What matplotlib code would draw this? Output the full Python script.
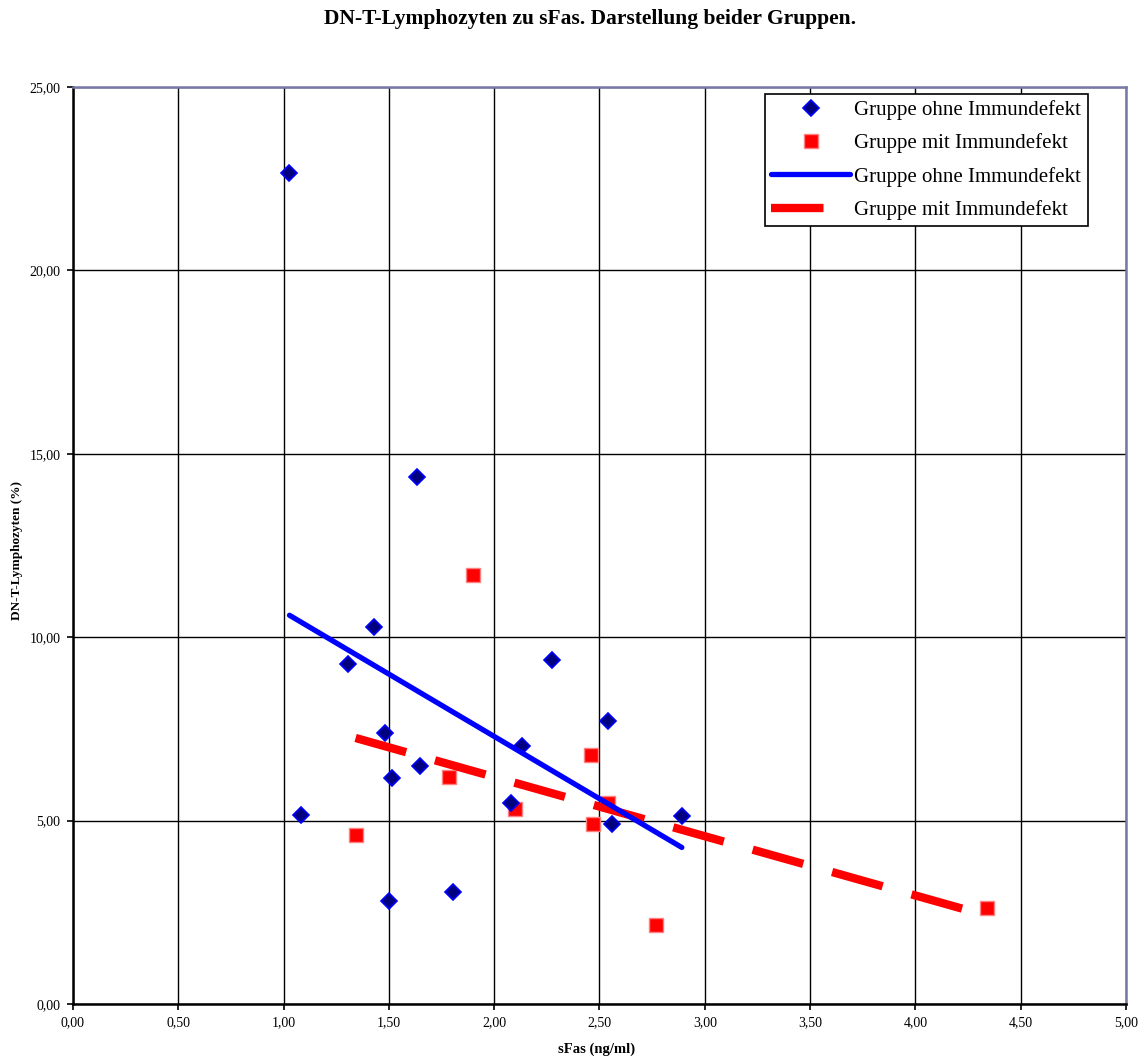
import numpy as np
import matplotlib
matplotlib.use("Agg")
import matplotlib.pyplot as plt
from matplotlib.ticker import MultipleLocator, FuncFormatter
from matplotlib.lines import Line2D

plt.rcParams['font.family'] = ['Liberation Serif', 'DejaVu Serif']

# Data: Gruppe ohne Immundefekt
x_ohne = [1.028, 1.085, 1.304, 1.429, 1.484, 1.503, 1.513, 1.632, 1.646, 1.805,
          2.082, 2.130, 2.274, 2.540, 2.559, 2.891]
y_ohne = [22.65, 5.15, 9.26, 10.29, 7.40, 2.82, 6.15, 14.37, 6.49, 3.05,
          5.49, 7.03, 9.37, 7.72, 4.90, 5.12]
# Data: Gruppe mit Immundefekt
x_mit = [1.342, 1.784, 1.899, 2.098, 2.461, 2.469, 2.539, 2.769, 4.339]
y_mit = [4.60, 6.19, 11.70, 5.31, 6.78, 4.92, 5.47, 2.15, 2.62]

label_ohne = "Gruppe ohne Immundefekt"
label_mit = "Gruppe mit Immundefekt"
title = "DN-T-Lymphozyten zu sFas. Darstellung beider Gruppen."
xlabel = "sFas (ng/ml)"
ylabel = "DN-T-Lymphozyten (%)"

fig = plt.figure(figsize=(11.4, 10.59), dpi=100)
ax = fig.add_axes([0.064, 0.0519, 0.9237, 0.8659])

ax.set_xlim(0, 5)
ax.set_ylim(0, 25)
ax.xaxis.set_major_locator(MultipleLocator(0.5))
ax.yaxis.set_major_locator(MultipleLocator(5))
fmt = FuncFormatter(lambda v, p: f"{v:.2f}".replace(".", ","))
ax.xaxis.set_major_formatter(fmt)
ax.yaxis.set_major_formatter(fmt)
ax.grid(True, color='black', linewidth=1.0)
ax.set_axisbelow(True)
ax.tick_params(direction='out', length=4, width=1.2, labelsize=10, colors='black', pad=5)

for s in ['left', 'bottom']:
    ax.spines[s].set_color('black')
    ax.spines[s].set_linewidth(1.8)
for s in ['top', 'right']:
    ax.spines[s].set_color('#7878a8')
    ax.spines[s].set_linewidth(1.8)

# scatter
ax.plot(x_ohne, y_ohne, linestyle='none', marker='D', markersize=8,
        markerfacecolor='#000080', markeredgecolor='#0000ff', markeredgewidth=1.2,
        zorder=4)
ax.plot(x_mit, y_mit, linestyle='none', marker='s', markersize=10,
        markerfacecolor='#ff0000', markeredgecolor='#ff8080', markeredgewidth=1.0,
        zorder=3)

# linear trendlines
p1 = np.polyfit(x_ohne, y_ohne, 1)
xs1 = np.array([min(x_ohne), max(x_ohne)])
ax.plot(xs1, np.polyval(p1, xs1), color='#0000ff', linewidth=3.8,
        solid_capstyle='round', zorder=5)
p2 = np.polyfit(x_mit, y_mit, 1)
xs2 = np.array([min(x_mit), max(x_mit)])
ax.plot(xs2, np.polyval(p2, xs2), color='#ff0000', linewidth=6.0,
        dashes=(6.3, 3.6), dash_capstyle='butt', zorder=4)

handles = [
    Line2D([], [], linestyle='none', marker='D', markersize=8,
           markerfacecolor='#000080', markeredgecolor='#0000ff', markeredgewidth=1.2),
    Line2D([], [], linestyle='none', marker='s', markersize=10,
           markerfacecolor='#ff0000', markeredgecolor='#ff8080', markeredgewidth=1.0),
    Line2D([], [], color='#0000ff', linewidth=3.8, solid_capstyle='round'),
    Line2D([], [], color='#ff0000', linewidth=6.0, dashes=(6.3, 3.6), dash_capstyle='butt'),
]
labels = [label_ohne, label_mit, label_ohne, label_mit]

leg = ax.legend(handles, labels, loc='upper left', bbox_to_anchor=(0.657, 0.9924),
                fontsize=15, frameon=True, fancybox=False, shadow=False,
                borderpad=0.3, labelspacing=0.64, handlelength=3.8,
                handletextpad=0.2, borderaxespad=0.0)
leg.get_frame().set_edgecolor('black')
leg.get_frame().set_linewidth(1.2)
leg.get_frame().set_alpha(1)

fig.text(0.518, 0.982, title, ha='center', va='center', fontsize=15.5, fontweight='bold')
fig.text(0.523, 0.009, xlabel, ha='center', va='center', fontsize=10.5, fontweight='bold')
fig.text(0.015, 0.480, ylabel, ha='center', va='center', fontsize=9.5,
         fontweight='bold', rotation=90)

fig.savefig("out.png", dpi=100)
